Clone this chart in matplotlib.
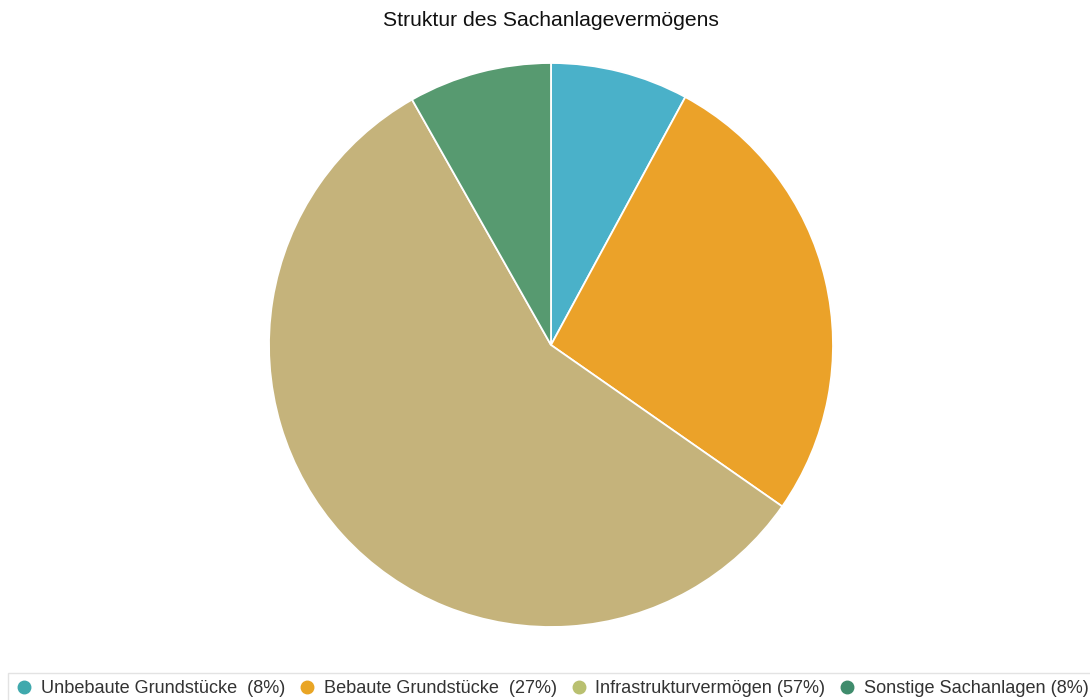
import matplotlib.pyplot as plt

# share of each asset class in percent
labels = ['Unbebaute Grundstücke', 'Bebaute Grundstücke', 'Infrastrukturvermögen', 'Sonstige Sachanlagen']
legend_labels = ['Unbebaute Grundstücke  (8%)', 'Bebaute Grundstücke  (27%)',
                 'Infrastrukturvermögen (57%)', 'Sonstige Sachanlagen (8%)']
values = [7.9, 26.8, 57.1, 8.2]

slice_colors = ['#4ab1c9', '#eba229', '#c5b37b', '#579a70']
marker_colors = ['#3fa9ad', '#e9a524', '#b9c070', '#3f8c6c']

plt.rcParams['font.family'] = ['Liberation Sans', 'DejaVu Sans']

fig = plt.figure(figsize=(10.9, 7), dpi=100)
ax = fig.add_axes([269 / 1090, 73 / 700, 564 / 1090, 564 / 700])

ax.pie(values, colors=slice_colors, startangle=90, counterclock=False,
       wedgeprops={'edgecolor': 'white', 'linewidth': 1.3})
ax.set_xlim(-1, 1)
ax.set_ylim(-1, 1)
ax.set_aspect('equal')

fig.text(551 / 1090, 1 - 20 / 700, 'Struktur des Sachanlagevermögens',
         ha='center', va='center', fontsize=15.2, color='#111111')

handles = [plt.Line2D([], [], marker='o', linestyle='', markersize=9,
                      markerfacecolor=c, markeredgecolor=c) for c in marker_colors]
leg = fig.legend(handles, legend_labels, loc='lower left', ncol=4,
                 bbox_to_anchor=(8 / 1090, -0.006),
                 frameon=True, fancybox=False, fontsize=13.1,
                 handletextpad=0.4, columnspacing=0.72, borderaxespad=0,
                 handlelength=1.0, borderpad=0.4)
leg.get_frame().set_edgecolor('#dddddd')
leg.get_frame().set_linewidth(1)
for t in leg.get_texts():
    t.set_color('#333333')

plt.savefig('out.png', dpi=100)
